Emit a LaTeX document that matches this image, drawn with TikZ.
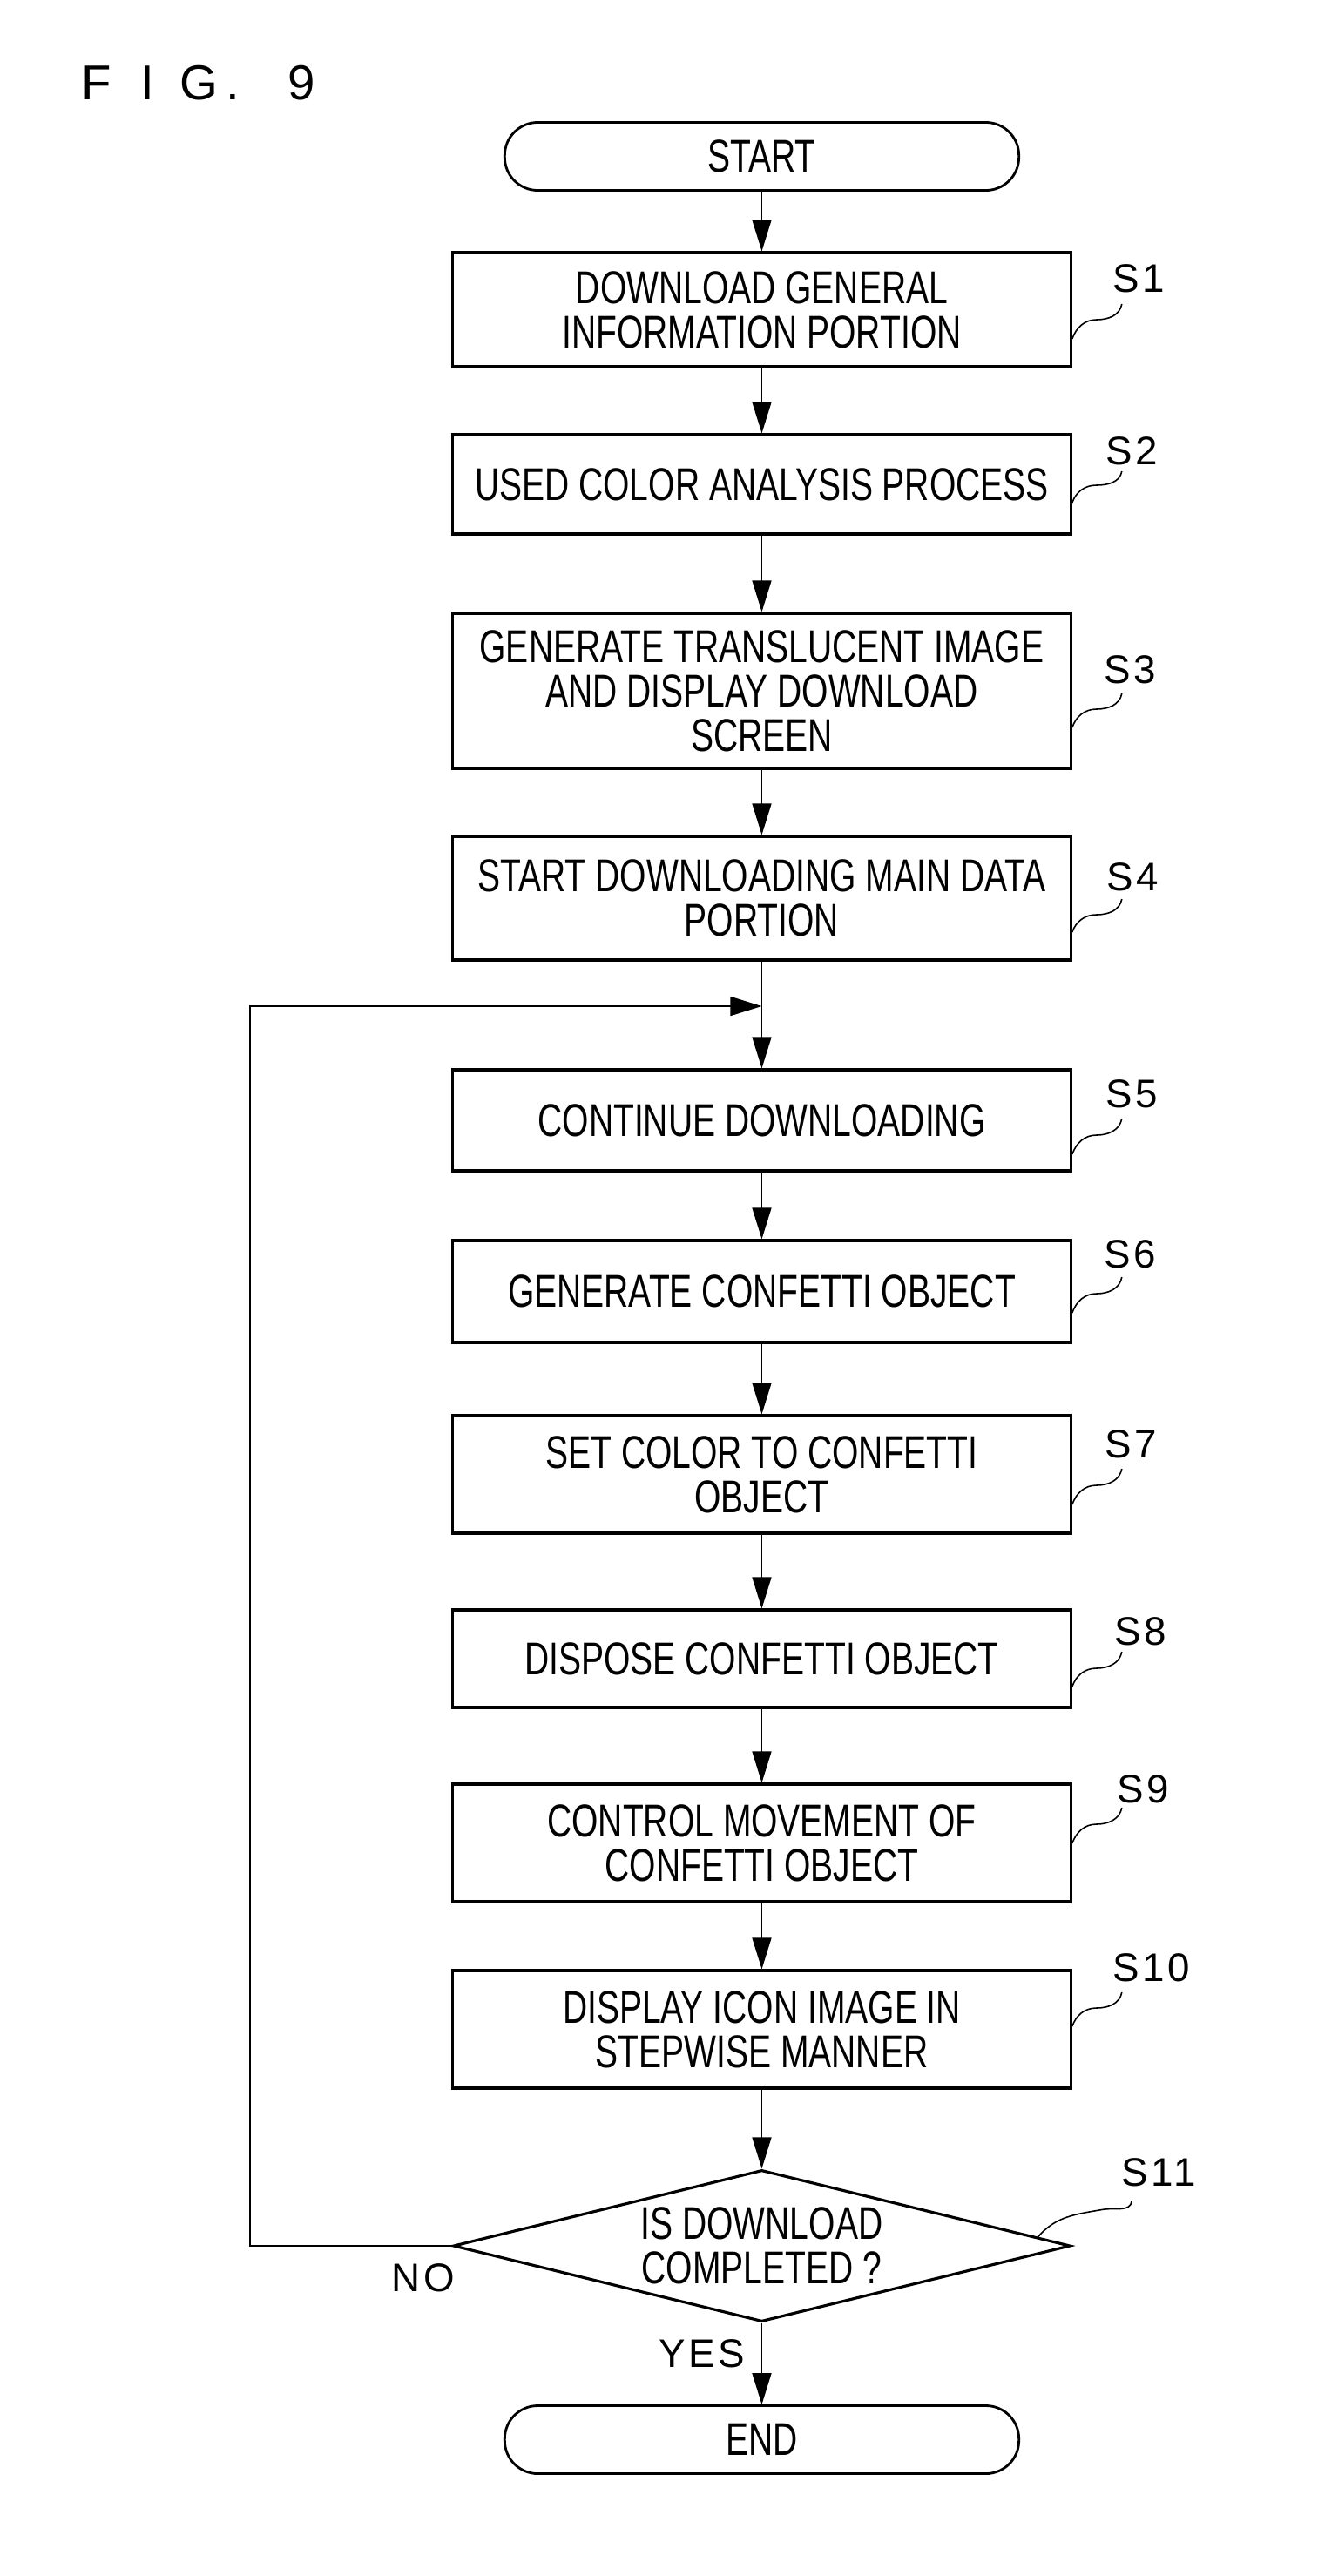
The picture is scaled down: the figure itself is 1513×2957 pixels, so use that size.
\documentclass[tikz,border=0pt]{standalone}
\usepackage{fontspec}
\setmainfont{Liberation Sans}
\newfontfamily\boxfont[FakeStretch=0.74]{Liberation Sans}
\newfontfamily\tagfont[LetterSpace=8]{Liberation Sans}
\usetikzlibrary{arrows.meta,shapes.geometric,calc}

\tikzset{
  stepbox/.style={draw, line width=0.9pt, minimum width=7.09cm, inner sep=0pt,
    align=center, font=\boxfont\fontsize{15}{14.5}\selectfont},
  endbox/.style={draw, line width=0.8pt, rounded corners=0.38cm, minimum width=5.9cm,
    minimum height=0.78cm, inner sep=0pt, font=\boxfont\fontsize{15}{14.5}\selectfont},
  testbox/.style={draw, diamond, aspect=4, line width=0.9pt, minimum width=7.08cm,
    minimum height=1.74cm, inner sep=0pt, align=center,
    font=\boxfont\fontsize{15}{14.5}\selectfont},
  tagtext/.style={inner sep=0pt, font=\tagfont\fontsize{13}{13}\selectfont},
  tagline/.style={line width=0.45pt},
  flow/.style={line width=0.45pt, -{Triangle[length=3.6mm, width=2.2mm]}}
}
\newcommand{\figcell}[1]{\makebox[0.59cm]{#1}}

\begin{document}
\begin{tikzpicture}[x=0.01cm, y=0.01cm]
	\useasboundingbox (0,0) rectangle (1513,-2957);
	
	% figure title
	\node[anchor=west, inner sep=0pt, font=\fontsize{16}{16}\selectfont] (title) at (80,-95)
		{\figcell{F}\figcell{I}\figcell{G}\makebox[0.59cm][l]{\hspace{0.02cm}.}\figcell{9}};
	
	% steps
	\node[endbox] (start) at (874.5,-179.5) {START};
	\node[stepbox, minimum height=1.31cm] (s1) at (874.5,-355.5) {DOWNLOAD GENERAL\\INFORMATION PORTION};
	\node[stepbox, minimum height=1.14cm] (s2) at (874.5,-556) {USED COLOR ANALYSIS PROCESS};
	\node[stepbox, minimum height=1.78cm] (s3) at (874.5,-793) {GENERATE TRANSLUCENT IMAGE\\AND DISPLAY DOWNLOAD\\SCREEN};
	\node[stepbox, minimum height=1.42cm] (s4) at (874.5,-1031) {START DOWNLOADING MAIN DATA\\PORTION};
	\node[stepbox, minimum height=1.16cm] (s5) at (874.5,-1286) {CONTINUE DOWNLOADING};
	\node[stepbox, minimum height=1.17cm] (s6) at (874.5,-1482.5) {GENERATE CONFETTI OBJECT};
	\node[stepbox, minimum height=1.35cm] (s7) at (874.5,-1692.5) {SET COLOR TO CONFETTI\\OBJECT};
	\node[stepbox, minimum height=1.12cm] (s8) at (874.5,-1904) {DISPOSE CONFETTI OBJECT};
	\node[stepbox, minimum height=1.35cm] (s9) at (874.5,-2115.5) {CONTROL MOVEMENT OF\\CONFETTI OBJECT};
	\node[stepbox, minimum height=1.35cm] (s10) at (874.5,-2329.5) {DISPLAY ICON IMAGE IN\\STEPWISE MANNER};
	\node[testbox] (s11) at (874.5,-2578) {IS DOWNLOAD\\COMPLETED ?};
	\node[endbox] (end) at (874.5,-2800.5) {END};
	
	% step numbers
	\node[tagtext] (l1) at (1307,-320) {S1};
	\node[tagtext] (l2) at (1299,-518) {S2};
	\node[tagtext] (l3) at (1297,-769) {S3};
	\node[tagtext] (l4) at (1300,-1007) {S4};
	\node[tagtext] (l5) at (1299,-1256) {S5};
	\node[tagtext] (l6) at (1297,-1440) {S6};
	\node[tagtext] (l7) at (1298,-1658) {S7};
	\node[tagtext] (l8) at (1309,-1873) {S8};
	\node[tagtext] (l9) at (1312,-2054) {S9};
	\node[tagtext] (l10) at (1322,-2259) {S10};
	\node[tagtext] (l11) at (1330,-2494) {S11};
	
	\draw[tagline] (s1.east |- 0,-389) to[out=70,in=180] ++(28,22) to[out=0,in=-100] ++(29,18);
	\draw[tagline] (s2.east |- 0,-577) to[out=70,in=180] ++(28,20) to[out=0,in=-100] ++(29,16);
	\draw[tagline] (s3.east |- 0,-835) to[out=70,in=180] ++(28,21) to[out=0,in=-100] ++(29,18);
	\draw[tagline] (s4.east |- 0,-1070) to[out=70,in=180] ++(28,20) to[out=0,in=-100] ++(29,18);
	\draw[tagline] (s5.east |- 0,-1325) to[out=70,in=180] ++(28,22) to[out=0,in=-100] ++(29,19);
	\draw[tagline] (s6.east |- 0,-1507) to[out=70,in=180] ++(28,22) to[out=0,in=-100] ++(29,19);
	\draw[tagline] (s7.east |- 0,-1727) to[out=70,in=180] ++(28,22) to[out=0,in=-100] ++(29,19);
	\draw[tagline] (s8.east |- 0,-1936) to[out=70,in=180] ++(28,21) to[out=0,in=-100] ++(29,19);
	\draw[tagline] (s9.east |- 0,-2116) to[out=70,in=180] ++(28,22) to[out=0,in=-100] ++(29,19);
	\draw[tagline] (s10.east |- 0,-2326) to[out=70,in=180] ++(28,21) to[out=0,in=-100] ++(29,18);
	\draw[tagline] ($(s11.east)!0.11!(s11.north)$) to[out=50,in=190] ++(75,32) to[out=10,in=-95] ++(33,10);
	
	% connectors
	\coordinate (join) at (874.5,-1155);
	\coordinate (back) at (287,-1155);
	
	\draw[flow] (start) -- (s1);
	\draw[flow] (s1) -- (s2);
	\draw[flow] (s2) -- (s3);
	\draw[flow] (s3) -- (s4);
	\draw[flow] (s4) -- (s5);
	\draw[flow] (s5) -- (s6);
	\draw[flow] (s6) -- (s7);
	\draw[flow] (s7) -- (s8);
	\draw[flow] (s8) -- (s9);
	\draw[flow] (s9) -- (s10);
	\draw[flow] (s10) -- (s11);
	\draw[flow] (s11) -- (end);
	\draw[flow] (s11.west) -| (back) -- (join);
	
	\node[tagtext] (no) at (486,-2615) {NO};
	\node[tagtext] (yes) at (806,-2702) {YES};
\end{tikzpicture}
\end{document}
